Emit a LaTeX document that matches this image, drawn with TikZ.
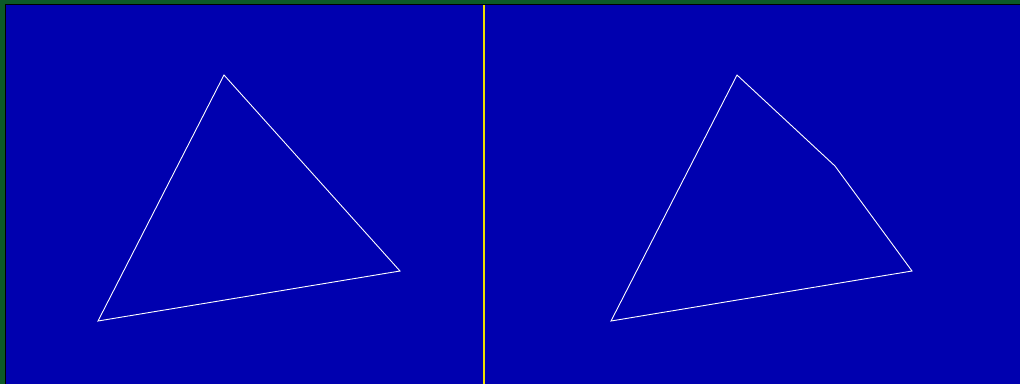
\documentclass[tikz,border=0pt]{standalone}
\begin{document}
\begin{tikzpicture}[x=1pt,y=-1pt,
  edge/.style={draw=white,line width=0.9pt,line join=miter}]
\definecolor{frame}{HTML}{0C5A28}
\definecolor{panel}{HTML}{0000AF}
\definecolor{divider}{HTML}{F0E000}
\useasboundingbox (0,0) rectangle (1020,384);
\fill[frame] (0,0) rectangle (1020,384);
\fill[black] (5,4) rectangle (1020,384);
\fill[panel] (6,5) rectangle (1020,384);
\coordinate (dtop) at (484,5);
\coordinate (dbot) at (484,384);
\draw[divider,line width=1.3pt] (dtop) -- (dbot);
% left triangle
\coordinate (a1) at (224,75);
\coordinate (a2) at (400,271);
\coordinate (a3) at (98,321);
\draw[edge] (a1) -- (a2) -- (a3) -- cycle;
% right polygon
\coordinate (b1) at (737,75);
\coordinate (b2) at (835,166);
\coordinate (b3) at (912,271);
\coordinate (b4) at (611,321);
\draw[edge] (b1) -- (b2) -- (b3) -- (b4) -- cycle;
\end{tikzpicture}
\end{document}
